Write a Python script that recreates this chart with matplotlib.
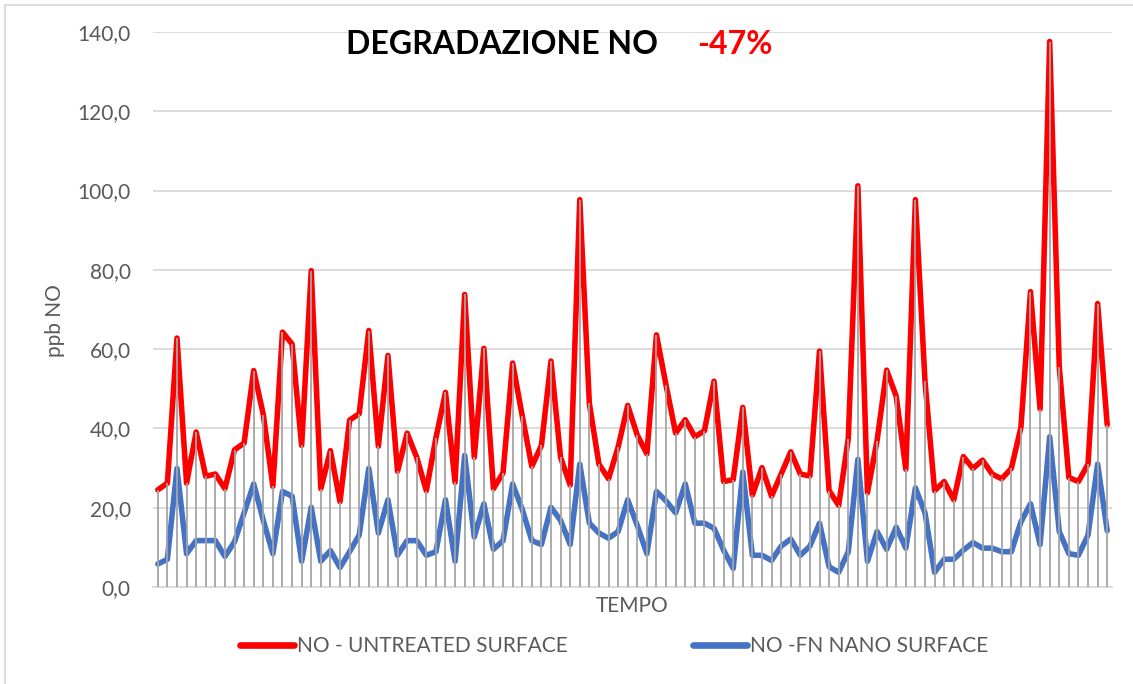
import numpy as np
import matplotlib
matplotlib.use("Agg")
import matplotlib.pyplot as plt
from matplotlib.lines import Line2D

plt.rcParams['font.family'] = ['Lato', 'DejaVu Sans']

# valori (ppb NO)
untreated = [24.5, 26.2, 62.8, 26.2, 39.1, 27.9, 28.5, 24.8, 34.6, 36.3,
             54.6, 43.5, 25.4, 64.3, 61.3, 35.7, 79.8, 24.8, 34.4, 21.5,
             42.1, 43.7, 64.7, 35.5, 58.4, 29.2, 38.8, 32.7, 24.3, 37.6,
             49.1, 26.4, 73.8, 32.7, 60.2, 24.8, 28.8, 56.5, 43.2, 30.4,
             35.7, 57.0, 32.7, 25.7, 97.7, 46.3, 31.0, 27.3, 35.3, 45.8,
             38.3, 33.6, 63.6, 50.9, 38.8, 42.2, 37.9, 39.4, 51.9, 26.6,
             27.1, 45.3, 23.2, 30.1, 22.9, 28.5, 34.1, 28.5, 28.0, 59.5,
             24.3, 20.6, 37.4, 101.2, 23.8, 36.9, 54.7, 48.1, 29.7, 97.7,
             51.9, 24.3, 26.6, 22.0, 32.9, 29.9, 32.0, 28.5, 27.3, 29.9,
             40.2, 74.5, 44.9, 137.6, 55.6, 27.6, 26.6, 31.0, 71.5, 40.9]

fn_nano = [5.8, 7.0, 29.9, 8.4, 11.7, 11.7, 11.7, 7.7, 11.4, 18.7,
           26.0, 16.8, 8.4, 24.1, 22.9, 6.5, 20.1, 6.5, 9.2, 4.9,
           8.9, 13.1, 29.9, 13.6, 22.0, 8.0, 11.7, 11.7, 8.0, 8.9,
           22.0, 6.5, 33.2, 12.6, 21.0, 9.5, 11.7, 26.0, 19.6, 11.7,
           10.7, 20.1, 16.8, 10.7, 31.0, 16.1, 13.6, 12.3, 14.0, 22.0,
           15.5, 8.4, 24.1, 21.7, 18.7, 26.0, 16.1, 16.1, 14.8, 9.3,
           4.7, 29.0, 8.0, 8.0, 6.7, 10.3, 12.1, 8.0, 10.3, 16.1,
           5.1, 3.7, 8.9, 32.2, 6.5, 14.0, 9.5, 15.1, 9.8, 25.0,
           18.7, 3.7, 7.0, 7.0, 9.3, 11.2, 9.8, 9.8, 8.9, 8.9,
           16.4, 21.0, 10.7, 37.9, 14.0, 8.4, 8.0, 13.1, 31.0, 14.2]

y_ticks = [0, 20, 40, 60, 80, 100, 120, 140]

x = np.arange(len(untreated))
grey_txt = '#595959'

fig = plt.figure(figsize=(11.33, 6.84), dpi=100)
ax = fig.add_axes([153/1133, 97/684, 959/1133, 555/684])

# griglia orizzontale
for v in y_ticks[1:]:
    ax.axhline(v, color='#D9D9D9', lw=1.3, zorder=0)

ax.plot(x, untreated, color='#FF0000', lw=4.0, zorder=3, solid_joinstyle='round',
        solid_capstyle='round', label='NO - UNTREATED SURFACE')
ax.plot(x, fn_nano, color='#4472C4', lw=4.0, zorder=3, solid_joinstyle='round',
        solid_capstyle='round', label='NO -FN NANO SURFACE')

# linee di proiezione (drop lines)
top = np.maximum(untreated, fn_nano)
ax.vlines(x, 0, top, color='#A5A5A5', lw=1.3, zorder=4)

ax.set_xlim(-0.5, len(untreated) - 0.5)
ax.set_ylim(0, 140)
ax.set_yticks(y_ticks)
ax.set_yticklabels([f'{v:.1f}'.replace('.', ',') for v in y_ticks])
ax.set_xticks([])
ax.tick_params(axis='y', length=0, pad=16, labelsize=15, labelcolor=grey_txt)
for s in ['top', 'right', 'left']:
    ax.spines[s].set_visible(False)
ax.spines['bottom'].set_color('#D9D9D9')
ax.spines['bottom'].set_linewidth(1.3)

ax.set_ylabel('ppb NO', fontsize=15, color=grey_txt)
ax.yaxis.set_label_coords(-0.092, 0.48)
ax.set_xlabel('TEMPO', fontsize=15, color=grey_txt)
ax.xaxis.set_label_coords(0.4995, -0.016)

fig.text(346/1133, 1 - 45/684, 'DEGRADAZIONE NO', fontsize=23, fontweight='bold',
         color='black', va='center', ha='left')
fig.text(697/1133, 1 - 45/684, '-47%', fontsize=23, fontweight='bold',
         color='#FF0000', va='center', ha='left')

handles = [Line2D([], [], color='#FF0000', lw=4.8, solid_capstyle='round'),
           Line2D([], [], color='#4472C4', lw=4.8, solid_capstyle='round')]
fig.legend(handles, ['NO - UNTREATED SURFACE', 'NO -FN NANO SURFACE'],
           loc='center', bbox_to_anchor=(614/1133, 1 - 646/684), ncol=2,
           frameon=False, fontsize=15, handlelength=2.6, handletextpad=0.15,
           columnspacing=6.0, labelcolor=grey_txt)

# bordo dell'area del grafico
fig.add_artist(Line2D([5/1133, 5/1133], [0, 1 - 5/684], color='#D9D9D9', lw=1.3))
fig.add_artist(Line2D([5/1133, 1], [1 - 5/684, 1 - 5/684], color='#D9D9D9', lw=1.3))

fig.savefig('out.png', dpi=100)
